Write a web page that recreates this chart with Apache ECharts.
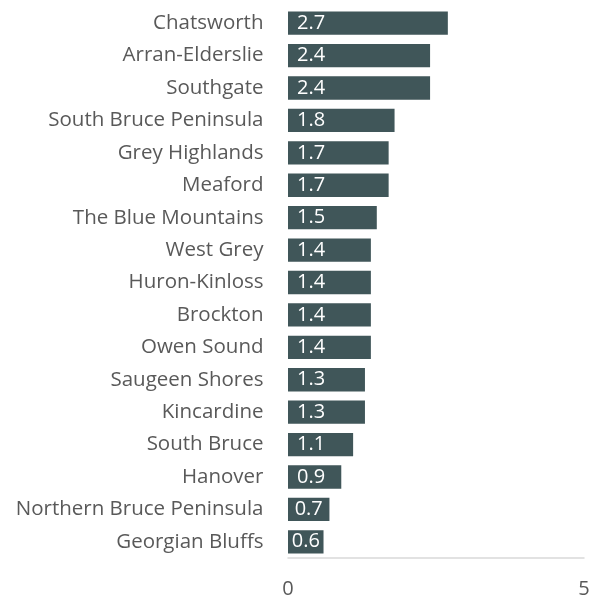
<!DOCTYPE html>
<html>
<head>
<meta charset="utf-8">
<style>
  html, body { margin: 0; padding: 0; background: #ffffff; }
  #chart { width: 603px; height: 600px; }
</style>
<script src="https://cdn.jsdelivr.net/npm/echarts@6/dist/echarts.min.js"></script>
</head>
<body>
<div id="chart"></div>
<script>
// Municipalities, listed top to bottom
const municipalities = [
  "Chatsworth", "Arran-Elderslie", "Southgate", "South Bruce Peninsula",
  "Grey Highlands", "Meaford", "The Blue Mountains", "West Grey",
  "Huron-Kinloss", "Brockton", "Owen Sound", "Saugeen Shores",
  "Kincardine", "South Bruce", "Hanover", "Northern Bruce Peninsula",
  "Georgian Bluffs"
];
const values = [2.7, 2.4, 2.4, 1.8, 1.7, 1.7, 1.5, 1.4, 1.4, 1.4, 1.4, 1.3, 1.3, 1.1, 0.9, 0.7, 0.6];
const xTicks = [0, 5];

const chart = echarts.init(document.getElementById('chart'), null, { renderer: 'canvas' });
const fontFamily = '"Open Sans", "Noto Sans", sans-serif';

chart.setOption({
  animation: false,
  grid: { left: 288, right: 19, top: 7, bottom: 42, containLabel: false },
  xAxis: {
    type: 'value',
    min: xTicks[0],
    max: xTicks[xTicks.length - 1],
    interval: 5,
    axisLine: { show: true, lineStyle: { color: '#d9d9d9', width: 1.5 } },
    axisTick: { show: false },
    splitLine: { show: false },
    axisLabel: {
      color: '#595959', fontSize: 20, fontFamily: fontFamily, margin: 21
    }
  },
  yAxis: {
    type: 'category',
    inverse: true,
    data: municipalities,
    axisLine: { show: false },
    axisTick: { show: false },
    axisLabel: {
      color: '#595959', fontSize: 20.5, fontFamily: fontFamily, margin: 24.5
    }
  },
  series: [{
    type: 'bar',
    data: values,
    barCategoryGap: '28%',
    itemStyle: { color: '#405659' },
    label: {
      show: true,
      position: 'insideLeft',
      distance: 9,
      color: '#ffffff',
      fontSize: 20,
      fontFamily: fontFamily,
      formatter: p => p.value.toFixed(1)
    },
    // keep the value text inside short bars by centring it when the inset does not fit
    labelLayout: p => ({
      x: p.rect.x + Math.max(1, Math.min(9, (p.rect.width - p.labelRect.width) / 2)),
      y: p.rect.y + p.rect.height / 2,
      align: 'left',
      verticalAlign: 'middle'
    })
  }]
});
</script>
</body>
</html>
